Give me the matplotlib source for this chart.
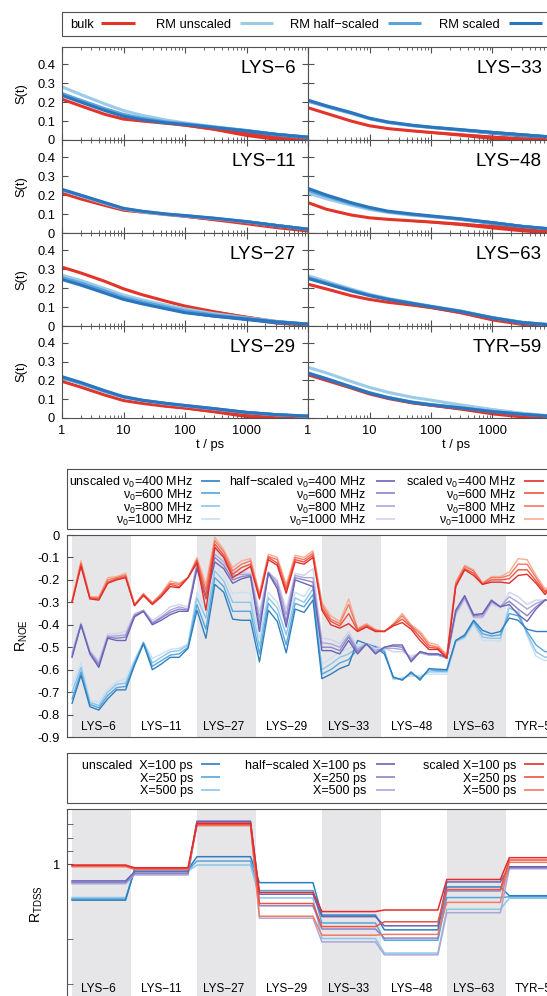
import matplotlib
matplotlib.use('Agg')
import matplotlib.pyplot as plt
from matplotlib.patches import Rectangle
from matplotlib.ticker import FixedLocator, FixedFormatter, NullFormatter
import numpy as np

plt.rcParams['font.family'] = ['Liberation Sans', 'DejaVu Sans']
plt.rcParams['mathtext.default'] = 'regular'
plt.rcParams['axes.unicode_minus'] = False

# ---- S(t) data, panels in row order left/right
panel_names = ['LYS−6', 'LYS−33', 'LYS−11', 'LYS−48', 'LYS−27', 'LYS−63', 'LYS−29', 'TYR−59']
t_ps = [1, 2, 5, 10, 20, 50, 100, 300, 1000, 3000, 10000]

st_bulk = [
    [0.215, 0.18, 0.135, 0.11, 0.1, 0.088, 0.078, 0.058, 0.03, 0.01, -0.005],
    [0.17, 0.14, 0.1, 0.075, 0.06, 0.048, 0.04, 0.028, 0.014, 0.005, 0.0],
    [0.21, 0.18, 0.145, 0.12, 0.11, 0.097, 0.088, 0.072, 0.055, 0.035, 0.015],
    [0.16, 0.125, 0.095, 0.08, 0.072, 0.064, 0.058, 0.047, 0.033, 0.018, 0.005],
    [0.31, 0.28, 0.235, 0.196, 0.165, 0.13, 0.105, 0.075, 0.045, 0.022, 0.008],
    [0.22, 0.195, 0.16, 0.14, 0.125, 0.11, 0.097, 0.072, 0.038, 0.015, 0.002],
    [0.195, 0.165, 0.122, 0.093, 0.078, 0.062, 0.053, 0.035, 0.014, 0.002, -0.005],
    [0.23, 0.2, 0.16, 0.128, 0.104, 0.08, 0.068, 0.05, 0.028, 0.012, 0.003],
]
st_unscaled = [
    [0.28, 0.24, 0.19, 0.155, 0.13, 0.105, 0.09, 0.07, 0.05, 0.03, 0.015],
    [0.205, 0.175, 0.14, 0.112, 0.092, 0.075, 0.066, 0.053, 0.039, 0.027, 0.015],
    [0.225, 0.195, 0.155, 0.127, 0.112, 0.098, 0.09, 0.076, 0.059, 0.04, 0.02],
    [0.21, 0.18, 0.147, 0.124, 0.108, 0.094, 0.086, 0.072, 0.054, 0.035, 0.02],
    [0.268, 0.24, 0.197, 0.163, 0.138, 0.11, 0.09, 0.065, 0.043, 0.025, 0.01],
    [0.265, 0.235, 0.195, 0.167, 0.145, 0.122, 0.105, 0.08, 0.045, 0.02, 0.005],
    [0.212, 0.183, 0.14, 0.111, 0.093, 0.076, 0.065, 0.048, 0.029, 0.017, 0.01],
    [0.27, 0.24, 0.195, 0.163, 0.137, 0.11, 0.095, 0.07, 0.045, 0.025, 0.01],
]
st_half = [
    [0.245, 0.21, 0.165, 0.135, 0.115, 0.095, 0.085, 0.068, 0.05, 0.03, 0.015],
    [0.205, 0.177, 0.142, 0.113, 0.093, 0.076, 0.066, 0.053, 0.04, 0.027, 0.015],
    [0.228, 0.198, 0.158, 0.128, 0.113, 0.099, 0.091, 0.077, 0.06, 0.04, 0.02],
    [0.225, 0.193, 0.155, 0.13, 0.112, 0.097, 0.088, 0.073, 0.054, 0.035, 0.02],
    [0.255, 0.227, 0.185, 0.15, 0.127, 0.1, 0.08, 0.058, 0.04, 0.023, 0.01],
    [0.255, 0.227, 0.19, 0.163, 0.142, 0.12, 0.103, 0.078, 0.043, 0.019, 0.005],
    [0.215, 0.186, 0.142, 0.112, 0.094, 0.077, 0.066, 0.049, 0.03, 0.018, 0.01],
    [0.24, 0.21, 0.167, 0.135, 0.11, 0.085, 0.072, 0.055, 0.035, 0.02, 0.008],
]
st_scaled = [
    [0.235, 0.2, 0.155, 0.125, 0.107, 0.09, 0.082, 0.066, 0.048, 0.03, 0.015],
    [0.21, 0.18, 0.145, 0.115, 0.095, 0.078, 0.068, 0.055, 0.04, 0.028, 0.015],
    [0.23, 0.2, 0.16, 0.13, 0.115, 0.1, 0.092, 0.078, 0.06, 0.04, 0.02],
    [0.235, 0.2, 0.16, 0.135, 0.115, 0.1, 0.09, 0.075, 0.055, 0.035, 0.02],
    [0.245, 0.216, 0.173, 0.14, 0.117, 0.09, 0.07, 0.052, 0.037, 0.022, 0.01],
    [0.25, 0.222, 0.185, 0.16, 0.14, 0.118, 0.102, 0.077, 0.043, 0.018, 0.005],
    [0.22, 0.19, 0.145, 0.114, 0.095, 0.078, 0.067, 0.05, 0.03, 0.018, 0.01],
    [0.238, 0.208, 0.165, 0.133, 0.108, 0.083, 0.07, 0.054, 0.034, 0.02, 0.008],
]
# spread of the noisy long-time tail (half width)
noise_rm = [0, 0, 0, 0, 0.001, 0.002, 0.003, 0.006, 0.009, 0.01, 0.008]
noise_bulk = [0, 0, 0, 0, 0.001, 0.003, 0.005, 0.008, 0.012, 0.012, 0.01]

# ---- residue groups on the lower two panels
groups = ['LYS−6', 'LYS−11', 'LYS−27', 'LYS−29', 'LYS−33', 'LYS−48', 'LYS−63', 'TYR−59']
group_sizes = [7, 7, 7, 7, 7, 7, 7, 6]

# ---- R_NOE
noe_unscaled_400 = [-0.75, -0.625, -0.765, -0.78, -0.73, -0.69, -0.69, -0.58, -0.485, -0.6, -0.575, -0.545, -0.545, -0.505,
                    -0.335, -0.46, -0.22, -0.255, -0.375, -0.38, -0.38, -0.565, -0.335, -0.385, -0.525, -0.33, -0.345, -0.29,
                    -0.64, -0.62, -0.595, -0.58, -0.47, -0.485, -0.5, -0.53, -0.632, -0.647, -0.61, -0.647, -0.595, -0.598,
                    -0.6, -0.47, -0.445, -0.38, -0.425, -0.44, -0.43, -0.37, -0.38, -0.42, -0.43, -0.43, -0.43]
noe_unscaled_600 = [-0.73, -0.61, -0.755, -0.77, -0.715, -0.68, -0.675, -0.575, -0.48, -0.585, -0.56, -0.535, -0.53, -0.5,
                    -0.31, -0.42, -0.19, -0.23, -0.34, -0.34, -0.34, -0.53, -0.305, -0.355, -0.49, -0.305, -0.32, -0.265,
                    -0.62, -0.6, -0.57, -0.555, -0.51, -0.485, -0.5, -0.52, -0.635, -0.645, -0.615, -0.64, -0.6, -0.605,
                    -0.605, -0.47, -0.45, -0.385, -0.44, -0.45, -0.445, -0.35, -0.36, -0.43, -0.49, -0.52, -0.52]
noe_unscaled_800 = [-0.7, -0.59, -0.745, -0.76, -0.7, -0.665, -0.66, -0.565, -0.48, -0.57, -0.545, -0.52, -0.515, -0.49,
                    -0.28, -0.37, -0.16, -0.205, -0.3, -0.3, -0.3, -0.495, -0.28, -0.325, -0.445, -0.28, -0.3, -0.24,
                    -0.6, -0.575, -0.545, -0.53, -0.5, -0.49, -0.495, -0.515, -0.64, -0.64, -0.62, -0.635, -0.61, -0.61,
                    -0.61, -0.475, -0.455, -0.39, -0.455, -0.46, -0.46, -0.325, -0.345, -0.44, -0.52, -0.545, -0.54]
noe_unscaled_1000 = [-0.67, -0.57, -0.735, -0.745, -0.685, -0.655, -0.64, -0.555, -0.475, -0.55, -0.53, -0.51, -0.505, -0.485,
                     -0.255, -0.33, -0.135, -0.18, -0.26, -0.255, -0.26, -0.46, -0.255, -0.3, -0.4, -0.255, -0.275, -0.215,
                     -0.575, -0.55, -0.52, -0.505, -0.49, -0.485, -0.495, -0.51, -0.645, -0.635, -0.63, -0.625, -0.62, -0.62,
                     -0.62, -0.475, -0.46, -0.4, -0.47, -0.47, -0.473, -0.3, -0.33, -0.45, -0.54, -0.56, -0.55]

noe_half_400 = [-0.545, -0.4, -0.53, -0.59, -0.46, -0.47, -0.47, -0.365, -0.34, -0.4, -0.38, -0.355, -0.34, -0.34,
                -0.15, -0.285, -0.12, -0.15, -0.215, -0.195, -0.185, -0.43, -0.17, -0.24, -0.41, -0.2, -0.215, -0.23,
                -0.515, -0.515, -0.53, -0.47, -0.53, -0.485, -0.53, -0.5, -0.49, -0.49, -0.565, -0.52, -0.53, -0.53,
                -0.545, -0.335, -0.27, -0.355, -0.35, -0.29, -0.32, -0.31, -0.355, -0.385, -0.33, -0.29, -0.29]
noe_half_600 = [-0.54, -0.4, -0.525, -0.58, -0.455, -0.46, -0.455, -0.36, -0.34, -0.395, -0.37, -0.345, -0.33, -0.335,
                -0.14, -0.27, -0.1, -0.135, -0.2, -0.185, -0.18, -0.4, -0.17, -0.225, -0.385, -0.19, -0.2, -0.21,
                -0.5, -0.5, -0.515, -0.455, -0.52, -0.485, -0.525, -0.5, -0.495, -0.5, -0.56, -0.52, -0.53, -0.53,
                -0.545, -0.34, -0.275, -0.36, -0.355, -0.295, -0.32, -0.295, -0.33, -0.36, -0.32, -0.29, -0.29]
noe_half_800 = [-0.53, -0.395, -0.52, -0.57, -0.45, -0.45, -0.445, -0.355, -0.335, -0.39, -0.365, -0.335, -0.32, -0.33,
                -0.13, -0.255, -0.085, -0.12, -0.18, -0.175, -0.175, -0.37, -0.165, -0.21, -0.355, -0.18, -0.19, -0.19,
                -0.48, -0.485, -0.5, -0.445, -0.51, -0.485, -0.515, -0.505, -0.505, -0.51, -0.55, -0.525, -0.535, -0.535,
                -0.55, -0.35, -0.28, -0.365, -0.365, -0.3, -0.32, -0.275, -0.3, -0.33, -0.305, -0.29, -0.29]
noe_half_1000 = [-0.52, -0.39, -0.515, -0.56, -0.44, -0.44, -0.43, -0.35, -0.335, -0.38, -0.355, -0.32, -0.31, -0.32,
                 -0.12, -0.24, -0.065, -0.11, -0.165, -0.165, -0.17, -0.34, -0.165, -0.2, -0.33, -0.17, -0.18, -0.15,
                 -0.46, -0.465, -0.485, -0.43, -0.5, -0.485, -0.505, -0.505, -0.52, -0.52, -0.54, -0.525, -0.535, -0.535,
                 -0.55, -0.36, -0.29, -0.37, -0.37, -0.31, -0.325, -0.255, -0.275, -0.31, -0.29, -0.29, -0.29]

noe_scaled_400 = [-0.3, -0.14, -0.285, -0.29, -0.215, -0.2, -0.19, -0.315, -0.27, -0.31, -0.275, -0.23, -0.235, -0.19,
                  -0.125, -0.335, -0.055, -0.1, -0.19, -0.165, -0.14, -0.285, -0.11, -0.135, -0.26, -0.12, -0.13, -0.1,
                  -0.335, -0.4, -0.415, -0.395, -0.43, -0.41, -0.43, -0.43, -0.405, -0.39, -0.42, -0.47, -0.51, -0.51,
                  -0.55, -0.23, -0.155, -0.18, -0.22, -0.21, -0.21, -0.215, -0.18, -0.175, -0.215, -0.265, -0.22]
noe_scaled_600 = [-0.3, -0.13, -0.28, -0.285, -0.21, -0.195, -0.185, -0.315, -0.265, -0.305, -0.27, -0.22, -0.23, -0.19,
                  -0.115, -0.28, -0.04, -0.09, -0.175, -0.145, -0.13, -0.275, -0.1, -0.125, -0.245, -0.11, -0.12, -0.09,
                  -0.325, -0.385, -0.405, -0.35, -0.425, -0.405, -0.425, -0.43, -0.4, -0.375, -0.41, -0.455, -0.5, -0.505,
                  -0.545, -0.225, -0.15, -0.17, -0.22, -0.2, -0.2, -0.195, -0.155, -0.155, -0.205, -0.255, -0.22]
noe_scaled_800 = [-0.295, -0.125, -0.28, -0.28, -0.2, -0.19, -0.178, -0.31, -0.265, -0.305, -0.265, -0.215, -0.22, -0.19,
                  -0.11, -0.245, -0.025, -0.075, -0.16, -0.13, -0.115, -0.27, -0.095, -0.11, -0.235, -0.1, -0.11, -0.08,
                  -0.31, -0.375, -0.395, -0.31, -0.42, -0.4, -0.425, -0.43, -0.4, -0.36, -0.405, -0.44, -0.49, -0.5,
                  -0.54, -0.215, -0.14, -0.16, -0.215, -0.19, -0.19, -0.18, -0.13, -0.13, -0.19, -0.25, -0.22]
noe_scaled_1000 = [-0.29, -0.115, -0.275, -0.275, -0.19, -0.185, -0.17, -0.31, -0.26, -0.3, -0.26, -0.205, -0.215, -0.19,
                   -0.1, -0.22, -0.01, -0.065, -0.145, -0.115, -0.105, -0.26, -0.085, -0.1, -0.22, -0.09, -0.1, -0.07,
                   -0.3, -0.36, -0.385, -0.285, -0.415, -0.395, -0.42, -0.43, -0.395, -0.35, -0.4, -0.43, -0.48, -0.49,
                   -0.535, -0.21, -0.135, -0.155, -0.215, -0.185, -0.185, -0.165, -0.105, -0.11, -0.18, -0.24, -0.22]

# ---- R_TDSS, one value per residue group
tdss_unscaled_100 = [0.899, 0.985, 1.023, 0.947, 0.860, 0.823, 0.935, 0.911]
tdss_unscaled_250 = [0.902, 0.983, 1.010, 0.925, 0.840, 0.798, 0.906, 0.908]
tdss_unscaled_500 = [0.906, 0.980, 0.998, 0.905, 0.802, 0.768, 0.875, 0.904]
tdss_half_100 = [0.952, 0.978, 1.137, 0.915, 0.856, 0.833, 0.949, 0.993]
tdss_half_250 = [0.948, 0.973, 1.135, 0.884, 0.825, 0.803, 0.924, 0.990]
tdss_half_500 = [0.944, 0.969, 1.131, 0.852, 0.794, 0.764, 0.866, 0.987]
tdss_scaled_100 = [0.998, 0.990, 1.130, 0.920, 0.869, 0.873, 0.956, 1.020]
tdss_scaled_250 = [0.996, 0.988, 1.126, 0.890, 0.831, 0.843, 0.928, 1.013]
tdss_scaled_500 = [0.993, 0.985, 1.122, 0.857, 0.810, 0.812, 0.893, 1.006]

# colours
c_bulk, c_unsc, c_half, c_scal = '#e3342a', '#9ccbe8', '#5ba3da', '#2a75be'
blues = ['#2f7fc0', '#55a6dc', '#8cc6e8', '#c8e0f2']
purples = ['#6b63b5', '#8a84c7', '#aaa7d8', '#d2d2ec']
reds = ['#e22d2a', '#f0533f', '#f37a62', '#f8ad95']
border = '#505050'
band = '#e6e6e9'

W, H = 547, 996


def rect(x0, y0, x1, y1):
    return [x0 / W, 1 - y1 / H, (x1 - x0) / W, (y1 - y0) / H]


def style(ax):
    for s in ax.spines.values():
        s.set_color(border)
        s.set_linewidth(0.8)
    ax.tick_params(which='both', direction='in', color=border, labelsize=9.3, pad=5)


fig = plt.figure(figsize=(W / 100, H / 100), dpi=100)

# ---------------- S(t) panels
rows = [47, 140, 233, 326, 418]
cols = [62, 308, 554]
series = [(st_bulk, c_bulk, noise_bulk), (st_unscaled, c_unsc, noise_rm),
          (st_half, c_half, noise_rm), (st_scaled, c_scal, noise_rm)]
for p, name in enumerate(panel_names):
    r, c = divmod(p, 2)
    ax = fig.add_axes(rect(cols[c], rows[r], cols[c + 1], rows[r + 1]))
    for data, color, noise in series:
        y = np.array(data[p])
        ax.fill_between(t_ps, y - np.array(noise), y + np.array(noise), color=color, lw=0)
        ax.plot(t_ps, y, color=color, lw=2.2, solid_capstyle='butt')
    ax.set_xscale('log')
    ax.set_xlim(1, 1e4)
    ax.set_ylim(0, 0.49)
    style(ax)
    ax.tick_params(which='both', top=True, right=True)
    ax.tick_params(which='major', length=4.5)
    ax.tick_params(which='minor', length=2.5)
    ax.set_xticks([1, 10, 100, 1000, 10000])
    ax.xaxis.set_minor_formatter(NullFormatter())
    if r == 3:
        ax.set_xticklabels(['1', '10', '100', '1000', ''])
        ax.text(0.6, -0.293, 't / ps', transform=ax.transAxes, ha='center', va='center', fontsize=9.3)
    else:
        ax.set_xticklabels([])
    ax.set_yticks([0, 0.1, 0.2, 0.3, 0.4])
    if c == 0:
        ax.set_yticklabels(['0', '0.1', '0.2', '0.3', '0.4'])
        ax.text(-0.164, 0.5, 'S(t)', transform=ax.transAxes, rotation=90,
                ha='center', va='center', fontsize=9.3)
    else:
        ax.set_yticklabels([])
    ax.text(0.951, 0.765, name, transform=ax.transAxes, ha='right', va='center', fontsize=13.5)

# ---------------- residue axes helpers
starts = np.concatenate([[0], np.cumsum(group_sizes)[:-1]])


def residue_axes(y0, y1):
    ax = fig.add_axes(rect(66.7, y0, 565.5, y1))
    ax.set_xlim(-0.6, 55.3)
    for k, s in enumerate(starts):
        if k % 2 == 0:
            ax.axvspan(s, s + 6.6, color=band, lw=0, zorder=0)
    style(ax)
    ax.set_xticks([])
    return ax


# ---------------- R_NOE
ax = residue_axes(535, 737)
idx = np.arange(len(noe_scaled_400))
noe_sets = [
    (blues, [noe_unscaled_400, noe_unscaled_600, noe_unscaled_800, noe_unscaled_1000]),
    (purples, [noe_half_400, noe_half_600, noe_half_800, noe_half_1000]),
    (reds, [noe_scaled_400, noe_scaled_600, noe_scaled_800, noe_scaled_1000]),
]
for colors, sets in noe_sets:
    for color, vals in reversed(list(zip(colors, sets))):
        ax.plot(idx, vals, color=color, lw=1.0)
ax.set_ylim(-0.9, 0)
ticks = [-0.9, -0.8, -0.7, -0.6, -0.5, -0.4, -0.3, -0.2, -0.1, 0]
ax.set_yticks(ticks)
ax.set_yticklabels(['%g' % v for v in ticks])
ax.tick_params(axis='y', length=4)
for s, name in zip(starts, groups):
    ax.text(s + 3, -0.857, name, ha='center', va='center', fontsize=8.5)

# ---------------- R_TDSS
ax = residue_axes(808.7, 999)
tdss_sets = [
    (blues[:3], [tdss_unscaled_100, tdss_unscaled_250, tdss_unscaled_500]),
    (purples[:3], [tdss_half_100, tdss_half_250, tdss_half_500]),
    (reds[:3], [tdss_scaled_100, tdss_scaled_250, tdss_scaled_500]),
]
idx_t = np.arange(sum(group_sizes))
for colors, sets in tdss_sets:
    for color, vals in reversed(list(zip(colors, sets))):
        ax.plot(idx_t, np.repeat(vals, group_sizes), color=color, lw=1.1)
ax.set_yscale('log')
ax.set_ylim(0.67, 1.18)
ax.yaxis.set_major_locator(FixedLocator([1]))
ax.yaxis.set_major_formatter(FixedFormatter(['1']))
ax.yaxis.set_minor_locator(FixedLocator([0.7, 0.8, 1.04, 1.082, 1.126]))
ax.yaxis.set_minor_formatter(NullFormatter())
ax.tick_params(axis='y', which='both', length=4)
for s, name in zip(starts, groups):
    ax.text(s + 3, 0.690, name, ha='center', va='center', fontsize=8.5)

# ---------------- keys (drawn in figure pixel coordinates)
ov = fig.add_axes([0, 0, 1, 1])
ov.set_xlim(0, W)
ov.set_ylim(H, 0)
ov.axis('off')


def key(x_text, y, label, color, lw, x_line, size=9.3):
    ov.text(x_text, y, label, ha='right', va='center_baseline', fontsize=size)
    ov.plot(x_line, [y, y], color=color, lw=lw, solid_capstyle='butt')


ov.add_patch(Rectangle((62, 11.7), 500, 24.3, fill=False, ec=border, lw=0.8))
top_keys = [('bulk', c_bulk, 94.4, (101, 135)), ('RM unscaled', c_unsc, 231, (240, 273)),
            ('RM half−scaled', c_half, 379, (388, 421)), ('RM scaled', c_scal, 500, (509, 542))]
for label, color, xt, xl in top_keys:
    key(xt, 23, label, color, 2.2, xl)

text_right = [193, 366, 516]
line_x = [(201, 220), (376, 395), (524, 544)]
prefixes = ['unscaled ', 'half−scaled ', 'scaled ']

ov.add_patch(Rectangle((66.7, 469), 500, 60, fill=False, ec=border, lw=0.8))
freqs = ['400', '600', '800', '1000']
for m, (colors, _) in enumerate(noe_sets):
    for j, f in enumerate(freqs):
        label = (prefixes[m] if j == 0 else '') + r'$\nu_0$=' + f + ' MHz'
        key(text_right[m], 480.7 + 12.67 * j, label, colors[j], 1.2, line_x[m], size=9.0)

ov.add_patch(Rectangle((66.7, 753.3), 500, 49.4, fill=False, ec=border, lw=0.8))
xs = ['100', '250', '500']
for m, (colors, _) in enumerate(tdss_sets):
    for j, x in enumerate(xs):
        pre = ('unscaled  ' if m == 0 else prefixes[m]) if j == 0 else ''
        key(text_right[m], 764.3 + 12.7 * j, pre + 'X=' + x + ' ps', colors[j], 1.2, line_x[m], size=9.0)

ov.text(22, 636, 'R$_{NOE}$', rotation=90, ha='center', va='center', fontsize=10)
ov.text(36.7, 904, 'R$_{TDSS}$', rotation=90, ha='center', va='center', fontsize=10)

fig.savefig('out.png', dpi=100)
